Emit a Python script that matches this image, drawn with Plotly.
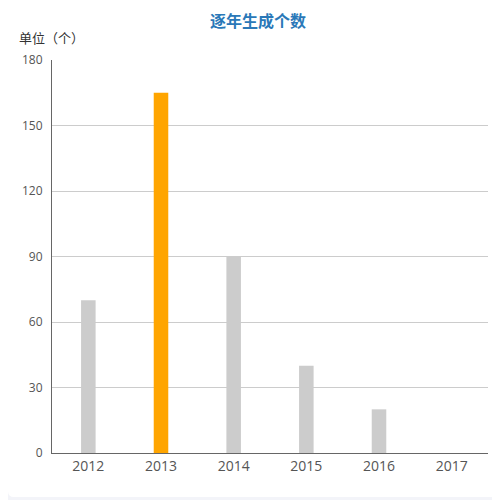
import plotly.graph_objects as go

years = ["2012", "2013", "2014", "2015", "2016", "2017"]
counts = [70, 165, 90, 40, 20, 0]
bar_colors = ["#cccccc", "#ffa500", "#cccccc", "#cccccc", "#cccccc", "#cccccc"]
y_ticks = [0, 30, 60, 90, 120, 150, 180]

# the page adds an 8px body margin, so the figure is laid out 8px smaller
OFF = 8
W, H = 500 - OFF, 500 - OFF
ML, MR, MT, MB = 52 - OFF, 12, 60 - OFF, 47
PW = W - ML - MR
PH = H - MT - MB


def px_x(p):
    return (p - OFF - ML) / PW


def px_y(p):
    return (H - MB - (p - OFF)) / PH


fig = go.Figure()
fig.add_trace(go.Bar(
    x=years, y=counts,
    marker=dict(color=bar_colors, line=dict(width=0)),
    width=0.2,
    hoverinfo="x+y",
))

font = "Open Sans, Noto Sans CJK SC, Microsoft YaHei, sans-serif"
cjk = "Noto Sans CJK SC, Microsoft YaHei, sans-serif"

# white card with rounded corners
x0, x1 = px_x(8), px_x(520)
y0, y1 = px_y(497), px_y(-10)
r = 6
rx, ry = r / PW, r / PH
path = (f"M {x0+rx},{y1} L {x1},{y1} L {x1},{y0} L {x0+rx},{y0} "
        f"Q {x0},{y0} {x0},{y0+ry} L {x0},{y1-ry} Q {x0},{y1} {x0+rx},{y1} Z")

fig.update_layout(
    width=W, height=H,
    margin=dict(l=ML, r=MR, t=MT, b=MB),
    paper_bgcolor="#f3f4f9",
    plot_bgcolor="rgba(0,0,0,0)",
    showlegend=False,
    font=dict(family=font),
    shapes=[dict(type="path", path=path, xref="paper", yref="paper",
                 fillcolor="#ffffff", line=dict(width=0), layer="below")],
    xaxis=dict(
        type="category",
        showgrid=False,
        showline=True, linecolor="#666666", linewidth=1,
        ticks="", tickfont=dict(size=14, color="#555555", family=font),
        range=[-0.5, 5.5],
        fixedrange=True,
    ),
    yaxis=dict(
        range=[0, 180],
        tickvals=y_ticks,
        showgrid=True, gridcolor="#cccccc", gridwidth=1,
        showline=True, linecolor="#666666", linewidth=1,
        zeroline=False,
        ticks="", ticklabelstandoff=6,
        tickfont=dict(size=12, color="#555555", family=font),
        fixedrange=True,
    ),
    annotations=[
        dict(text="<b>逐年生成个数</b>", x=px_x(258), y=px_y(20),
             xref="paper", yref="paper", showarrow=False,
             xanchor="center", yanchor="middle",
             font=dict(size=16, color="#2a78b8", family=cjk)),
        dict(text="单位（个）", x=px_x(17), y=px_y(37),
             xref="paper", yref="paper", showarrow=False,
             xanchor="left", yanchor="middle",
             font=dict(size=13, color="#333333", family=cjk)),
    ],
)

fig.write_html("out.html")
